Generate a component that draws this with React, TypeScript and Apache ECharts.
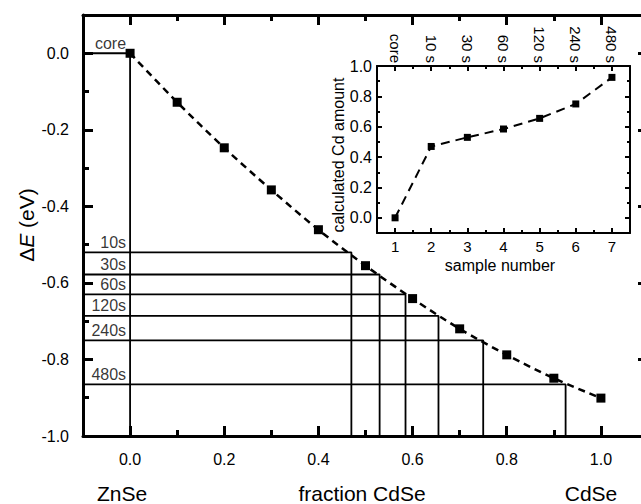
import React, { useEffect, useRef } from "react";
import * as echarts from "echarts";

// Main panel data: band-gap shift vs. CdSe fraction
const fractionCdSe = [0, 0.1, 0.2, 0.3, 0.4, 0.5, 0.6, 0.7, 0.8, 0.9, 1.0];
const deltaE = [0, -0.128, -0.247, -0.357, -0.461, -0.555, -0.641, -0.72, -0.788, -0.849, -0.901];

// Samples: measured ΔE levels and calculated Cd amount
const sampleLabelsMain = ["core", "10s", "30s", "60s", "120s", "240s", "480s"];
const sampleLabelsInset = ["core", "10 s", "30 s", "60 s", "120 s", "240 s", "480 s"];
const sampleNumber = [1, 2, 3, 4, 5, 6, 7];
const sampleLevels = [0, -0.52, -0.578, -0.63, -0.686, -0.75, -0.865];
const cdAmount = [0, 0.47, 0.53, 0.585, 0.655, 0.75, 0.925];

// Tick values
const mainXMajor = [0, 0.2, 0.4, 0.6, 0.8, 1.0];
const mainXMinor = [0.1, 0.3, 0.5, 0.7, 0.9];
const mainYMajor = [-1.0, -0.8, -0.6, -0.4, -0.2, 0.0];
const mainYMinor = [-0.9, -0.7, -0.5, -0.3, -0.1];
const insetXMajor = [1, 2, 3, 4, 5, 6, 7];
const insetXMinor = [1.5, 2.5, 3.5, 4.5, 5.5, 6.5];
const insetYMajor = [0, 0.2, 0.4, 0.6, 0.8, 1.0];
const insetYMinor = [0.1, 0.3, 0.5, 0.7, 0.9];

const FONT = "'Liberation Sans', Arial, Helvetica, sans-serif";
const BLACK = "#000";

export default function App() {
  const ref = useRef<HTMLDivElement>(null);

  useEffect(() => {
    if (!ref.current) return;
    const chart = echarts.init(ref.current, undefined, { renderer: "svg" });

    const mainMin = -0.1, mainMax = 1.1, mainYMin = -1.0, mainYMax = 0.1;

    const axisBase = (grid: number, min: number, max: number, position: string, opts: any) => ({
      type: "value",
      gridIndex: grid,
      position,
      min,
      max,
      splitLine: { show: false },
      axisLine: { show: opts.line, onZero: false, lineStyle: { color: BLACK, width: opts.lineWidth } },
      axisTick: {
        show: true,
        inside: true,
        length: opts.tickLen,
        customValues: opts.ticks,
        lineStyle: { color: BLACK, width: opts.tickWidth },
      },
      axisLabel: opts.labels
        ? {
            show: true,
            customValues: opts.ticks,
            formatter: opts.formatter,
            fontSize: opts.fontSize,
            fontFamily: FONT,
            color: BLACK,
            margin: opts.margin,
            rotate: opts.rotate || 0,
          }
        : { show: false },
    });

    const fmt1 = (v: number) => (Math.abs(v) < 1e-9 ? "0.0" : v.toFixed(1));

    const xAxis = [
      axisBase(0, mainMin, mainMax, "bottom", { line: true, lineWidth: 3, tickLen: 10, tickWidth: 3, ticks: mainXMajor, labels: true, formatter: fmt1, fontSize: 16, margin: 15 }),
      axisBase(0, mainMin, mainMax, "top", { line: true, lineWidth: 3, tickLen: 10, tickWidth: 3, ticks: mainXMajor, labels: false }),
      axisBase(1, mainMin, mainMax, "bottom", { line: false, lineWidth: 3, tickLen: 6, tickWidth: 3, ticks: mainXMinor, labels: false }),
      axisBase(1, mainMin, mainMax, "top", { line: false, lineWidth: 3, tickLen: 6, tickWidth: 3, ticks: mainXMinor, labels: false }),
      axisBase(2, 0.5, 7.5, "bottom", { line: true, lineWidth: 2, tickLen: 5, tickWidth: 2, ticks: insetXMajor, labels: true, formatter: (v: number) => String(Math.round(v)), fontSize: 15, margin: 6 }),
      axisBase(2, 0.5, 7.5, "top", {
        line: true, lineWidth: 2, tickLen: 5, tickWidth: 2, ticks: insetXMajor, labels: true,
        formatter: (v: number) => sampleLabelsInset[sampleNumber.indexOf(Math.round(v))] || "",
        fontSize: 15, margin: 3, rotate: 90,
      }),
      axisBase(3, 0.5, 7.5, "bottom", { line: false, lineWidth: 2, tickLen: 3, tickWidth: 2, ticks: insetXMinor, labels: false }),
      axisBase(3, 0.5, 7.5, "top", { line: false, lineWidth: 2, tickLen: 3, tickWidth: 2, ticks: insetXMinor, labels: false }),
    ];

    const yAxis = [
      axisBase(0, mainYMin, mainYMax, "left", { line: true, lineWidth: 3, tickLen: 10, tickWidth: 3, ticks: mainYMajor, labels: true, formatter: fmt1, fontSize: 16, margin: 14 }),
      axisBase(0, mainYMin, mainYMax, "right", { line: true, lineWidth: 3, tickLen: 10, tickWidth: 3, ticks: mainYMajor, labels: false }),
      axisBase(1, mainYMin, mainYMax, "left", { line: false, lineWidth: 3, tickLen: 6, tickWidth: 3, ticks: mainYMinor, labels: false }),
      axisBase(1, mainYMin, mainYMax, "right", { line: false, lineWidth: 3, tickLen: 6, tickWidth: 3, ticks: mainYMinor, labels: false }),
      axisBase(2, -0.1, 1.0, "left", { line: true, lineWidth: 2, tickLen: 5, tickWidth: 2, ticks: insetYMajor, labels: true, formatter: fmt1, fontSize: 16, margin: 5 }),
      axisBase(2, -0.1, 1.0, "right", { line: true, lineWidth: 2, tickLen: 5, tickWidth: 2, ticks: insetYMajor, labels: false }),
      axisBase(3, -0.1, 1.0, "left", { line: false, lineWidth: 2, tickLen: 3, tickWidth: 2, ticks: insetYMinor, labels: false }),
      axisBase(3, -0.1, 1.0, "right", { line: false, lineWidth: 2, tickLen: 3, tickWidth: 2, ticks: insetYMinor, labels: false }),
    ];

    // container is 660 wide (clipped to 641) so the main frame's right edge falls just outside the view
    const mainGrid = { left: 83, top: 15, right: 12, bottom: 68, containLabel: false };
    const insetGrid = { left: 377, top: 66, width: 253, height: 167, containLabel: false };

    const levelSeries = sampleLevels.map((lvl, i) => ({
      type: "line",
      xAxisIndex: 0,
      yAxisIndex: 0,
      symbol: "none",
      silent: true,
      z: 2,
      lineStyle: { color: BLACK, width: 1.8 },
      data: [
        [mainMin, lvl],
        [cdAmount[i], lvl],
        [cdAmount[i], mainYMin],
      ],
    }));

    const option: any = {
      animation: false,
      backgroundColor: "#fff",
      grid: [mainGrid, { ...mainGrid }, insetGrid, { ...insetGrid }],
      xAxis,
      yAxis,
      series: [
        ...levelSeries,
        {
          type: "scatter",
          xAxisIndex: 0,
          yAxisIndex: 0,
          symbolSize: 0,
          silent: true,
          data: sampleLevels.map((lvl) => [0, lvl]),
          label: {
            show: true,
            position: "left",
            distance: 4,
            offset: [0, -10],
            formatter: (p: any) => sampleLabelsMain[p.dataIndex],
            fontSize: 16,
            fontFamily: FONT,
            color: BLACK,
          },
        },
        {
          type: "line",
          xAxisIndex: 0,
          yAxisIndex: 0,
          smooth: 0.3,
          symbol: "rect",
          symbolSize: 9,
          z: 5,
          itemStyle: { color: BLACK },
          lineStyle: { color: BLACK, width: 2.5, type: [7, 5] },
          data: fractionCdSe.map((f, i) => [f, deltaE[i]]),
        },
        {
          type: "line",
          xAxisIndex: 4,
          yAxisIndex: 4,
          symbol: "rect",
          symbolSize: 7,
          z: 5,
          itemStyle: { color: BLACK },
          lineStyle: { color: BLACK, width: 2, type: [9, 6] },
          data: sampleNumber.map((n, i) => [n, cdAmount[i]]),
        },
      ],
      graphic: [
        {
          type: "text",
          x: 26,
          y: 225,
          rotation: Math.PI / 2,
          style: {
            text: "{a|Δ}{i|E}{a| (eV)}",
            rich: {
              a: { fontSize: 21, fontFamily: FONT, fill: BLACK },
              i: { fontSize: 21, fontFamily: FONT, fontStyle: "italic", fill: BLACK },
            },
            align: "center",
            verticalAlign: "middle",
            fill: BLACK,
          },
        },
        { type: "text", x: 122, y: 493, style: { text: "ZnSe", fontSize: 21, fontFamily: FONT, fill: BLACK, align: "center", verticalAlign: "middle" } },
        { type: "text", x: 362, y: 493, style: { text: "fraction CdSe", fontSize: 21, fontFamily: FONT, fill: BLACK, align: "center", verticalAlign: "middle" } },
        { type: "text", x: 591, y: 493, style: { text: "CdSe", fontSize: 21, fontFamily: FONT, fill: BLACK, align: "center", verticalAlign: "middle" } },
        { type: "text", x: 338, y: 155, rotation: Math.PI / 2, style: { text: "calculated Cd amount", fontSize: 16, fontFamily: FONT, fill: BLACK, align: "center", verticalAlign: "middle" } },
        { type: "text", x: 500, y: 265, style: { text: "sample number", fontSize: 16, fontFamily: FONT, fill: BLACK, align: "center", verticalAlign: "middle" } },
      ],
    };

    chart.setOption(option);
    return () => chart.dispose();
  }, []);

  return (
    <div style={{ position: "absolute", left: 0, top: 0, width: 641, height: 504, overflow: "hidden", background: "#fff" }}>
      <div ref={ref} style={{ width: 660, height: 504 }} />
    </div>
  );
}
